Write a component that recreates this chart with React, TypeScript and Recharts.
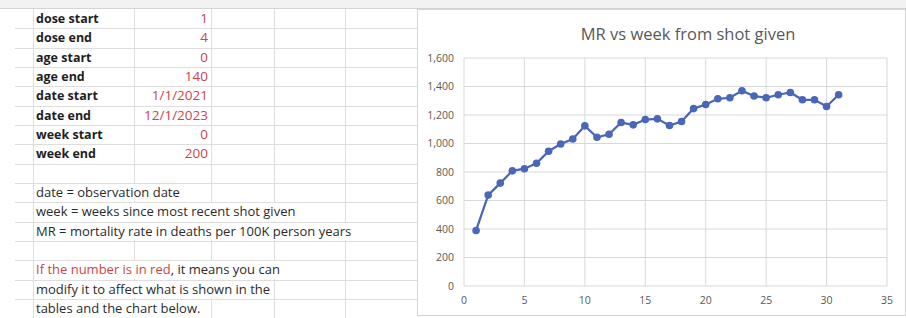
import React from 'react';
import { LineChart, Line, XAxis, YAxis, CartesianGrid } from 'recharts';

const paramLabels = ['dose start', 'dose end', 'age start', 'age end', 'date start', 'date end', 'week start', 'week end'];
const paramValues = ['1', '4', '0', '140', '1/1/2021', '12/1/2023', '0', '200'];

const noteLines = [
  'date = observation date',
  'week = weeks since most recent shot given',
  'MR = mortality rate in deaths per 100K person years',
  '',
  'If the number is in red, it means you can',
  'modify it to affect what is shown in the',
  'tables and the chart below.',
];
const redPrefix = 'If the number is in red';

const weeks = [1, 2, 3, 4, 5, 6, 7, 8, 9, 10, 11, 12, 13, 14, 15, 16, 17, 18, 19, 20, 21, 22, 23, 24, 25, 26, 27, 28, 29, 30, 31];
const mr = [390, 638, 722, 808, 823, 861, 946, 997, 1032, 1124, 1044, 1065, 1147, 1131, 1168, 1173, 1126, 1154, 1245, 1274, 1314, 1321, 1370, 1333, 1321, 1342, 1358, 1307, 1307, 1260, 1342];

const xTicks = [0, 5, 10, 15, 20, 25, 30, 35];
const yTicks = [0, 200, 400, 600, 800, 1000, 1200, 1400, 1600];

const chartTitle = 'MR vs week from shot given';

const data = weeks.map((w, i) => ({ week: w, mr: mr[i] }));

const ROW_H = 19.33;
const TOP = 9;
const colLines = [33, 134, 211, 274, 345];
const font = '"Open Sans", "DejaVu Sans", sans-serif';
const RED = '#c8464a';
const GRID = '#dedede';

const App: React.FC = () => {
  const rows = Array.from({ length: 17 }, (_, i) => TOP + i * ROW_H);
  return (
    <div style={{ position: 'absolute', left: 0, top: 0, width: 906, height: 318, overflow: 'hidden', background: '#fff', fontFamily: font }}>
      {/* column header strip */}
      <div style={{ position: 'absolute', left: 0, top: 0, width: 906, height: TOP, background: '#f2f2f2', borderBottom: '1px solid #d4d4d4', boxSizing: 'border-box' }} />

      {/* sheet grid */}
      {rows.slice(1).map((y, i) => (
        <div key={'h' + i} style={{ position: 'absolute', left: 15, top: y, width: 402, height: 1, background: GRID }} />
      ))}
      {colLines.map((x, i) => (
        <div key={'v' + i} style={{ position: 'absolute', left: x, top: TOP, width: 1, height: 318 - TOP, background: GRID }} />
      ))}

      {/* parameter table */}
      {paramLabels.map((label, i) => (
        <React.Fragment key={label}>
          <div style={{ position: 'absolute', left: 36, top: TOP + i * ROW_H, height: ROW_H, lineHeight: ROW_H + 'px', fontSize: 12.5, fontWeight: 700, color: '#1e1e1e' }}>
            {label}
          </div>
          <div style={{ position: 'absolute', right: 906 - 208, top: TOP + i * ROW_H, height: ROW_H, lineHeight: ROW_H + 'px', fontSize: 13.5, color: RED }}>
            {paramValues[i]}
          </div>
        </React.Fragment>
      ))}

      {/* notes */}
      {noteLines.map((line, i) =>
        line ? (
          <div key={'n' + i} style={{ position: 'absolute', left: 34, top: TOP + (9 + i) * ROW_H + 1, height: ROW_H - 2, lineHeight: ROW_H - 2 + 'px', fontSize: 13, color: '#2b2b2b', background: '#fff', paddingLeft: 2, paddingRight: 4, whiteSpace: 'nowrap' }}>
            {line.startsWith(redPrefix) ? (
              <>
                <span style={{ color: RED }}>{redPrefix}</span>
                {line.slice(redPrefix.length)}
              </>
            ) : (
              line
            )}
          </div>
        ) : null
      )}

      {/* chart */}
      <div style={{ position: 'absolute', left: 417, top: 9, width: 489, height: 307, border: '1px solid #d4d4d4', boxSizing: 'border-box', background: '#fff' }}>
        <div style={{ position: 'absolute', left: 0, top: 12, width: 540, textAlign: 'center', fontSize: 16.5, color: '#595959', whiteSpace: 'nowrap' }}>
          {chartTitle}
        </div>
        <LineChart width={487} height={305} data={data} margin={{ top: 48, right: 18, bottom: 0, left: 0 }}>
          <CartesianGrid stroke="#d9d9d9" strokeWidth={1} />
          <XAxis
            type="number"
            dataKey="week"
            domain={[0, 35]}
            ticks={xTicks}
            interval={0}
            axisLine={false}
            tickLine={false}
            tickSize={6}
            tickMargin={5}
            height={29}
            tick={{ fill: '#595959', fontSize: 10.5, fontFamily: font }}
          />
          <YAxis
            type="number"
            domain={[0, 1600]}
            ticks={yTicks}
            interval={0}
            axisLine={false}
            tickLine={false}
            tickSize={6}
            tickMargin={4}
            width={46}
            tickFormatter={(v: number) => v.toLocaleString('en-US')}
            tick={{ fill: '#595959', fontSize: 10.5, fontFamily: font }}
          />
          <Line
            type="linear"
            dataKey="mr"
            stroke="#4a66b8"
            strokeWidth={2.25}
            dot={{ r: 3.8, fill: '#4a66b8', stroke: 'none' }}
            isAnimationActive={false}
          />
        </LineChart>
      </div>
    </div>
  );
};

export default App;
